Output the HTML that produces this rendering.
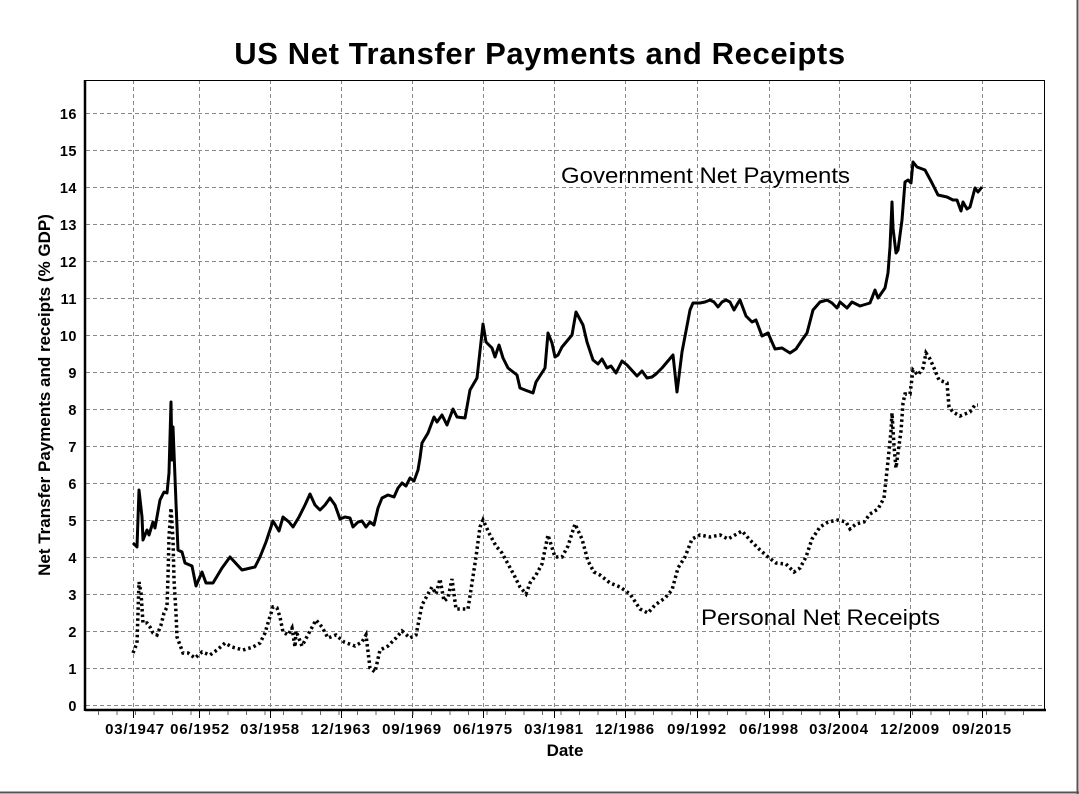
<!DOCTYPE html>
<html><head><meta charset="utf-8"><style>
html,body{margin:0;padding:0;background:#fff;}
svg{display:block;font-family:"Liberation Sans",sans-serif;}
</style></head><body>
<svg width="1079" height="794" viewBox="0 0 1079 794" xmlns="http://www.w3.org/2000/svg">
<rect x="0" y="0" width="1079" height="794" fill="#fff"/>
<line x1="1077.5" y1="0" x2="1077.5" y2="794" stroke="#555" stroke-width="2"/>
<line x1="0" y1="792.5" x2="1079" y2="792.5" stroke="#555" stroke-width="2"/>
<text x="540" y="64" text-anchor="middle" font-size="31" font-weight="bold" letter-spacing="0.6" fill="#000">US Net Transfer Payments and Receipts</text>
<g stroke="#888" stroke-width="1" stroke-dasharray="4 3" fill="none">
<line x1="86" y1="705.5" x2="1045" y2="705.5"/><line x1="86" y1="668.5" x2="1045" y2="668.5"/><line x1="86" y1="631.5" x2="1045" y2="631.5"/><line x1="86" y1="594.5" x2="1045" y2="594.5"/><line x1="86" y1="557.5" x2="1045" y2="557.5"/><line x1="86" y1="520.5" x2="1045" y2="520.5"/><line x1="86" y1="483.5" x2="1045" y2="483.5"/><line x1="86" y1="446.5" x2="1045" y2="446.5"/><line x1="86" y1="409.5" x2="1045" y2="409.5"/><line x1="86" y1="372.5" x2="1045" y2="372.5"/><line x1="86" y1="335.5" x2="1045" y2="335.5"/><line x1="86" y1="298.5" x2="1045" y2="298.5"/><line x1="86" y1="261.5" x2="1045" y2="261.5"/><line x1="86" y1="224.5" x2="1045" y2="224.5"/><line x1="86" y1="187.5" x2="1045" y2="187.5"/><line x1="86" y1="150.5" x2="1045" y2="150.5"/><line x1="86" y1="113.5" x2="1045" y2="113.5"/>
<line x1="133.5" y1="80" x2="133.5" y2="710"/><line x1="199.5" y1="80" x2="199.5" y2="710"/><line x1="270.5" y1="80" x2="270.5" y2="710"/><line x1="341.5" y1="80" x2="341.5" y2="710"/><line x1="412.5" y1="80" x2="412.5" y2="710"/><line x1="483.5" y1="80" x2="483.5" y2="710"/><line x1="554.5" y1="80" x2="554.5" y2="710"/><line x1="625.5" y1="80" x2="625.5" y2="710"/><line x1="697.5" y1="80" x2="697.5" y2="710"/><line x1="769.5" y1="80" x2="769.5" y2="710"/><line x1="839.5" y1="80" x2="839.5" y2="710"/><line x1="910.5" y1="80" x2="910.5" y2="710"/><line x1="982.5" y1="80" x2="982.5" y2="710"/>
</g>
<rect x="85.5" y="80.5" width="959" height="630" fill="none" stroke="#000" stroke-width="1"/>
<line x1="85" y1="80" x2="85" y2="711" stroke="#000" stroke-width="2.5"/>
<line x1="85" y1="710" x2="1046" y2="710" stroke="#000" stroke-width="2.5"/>
<g stroke="#000" stroke-width="1">
<line x1="133.5" y1="710" x2="133.5" y2="718"/><line x1="199.5" y1="710" x2="199.5" y2="718"/><line x1="270.5" y1="710" x2="270.5" y2="718"/><line x1="341.5" y1="710" x2="341.5" y2="718"/><line x1="412.5" y1="710" x2="412.5" y2="718"/><line x1="483.5" y1="710" x2="483.5" y2="718"/><line x1="554.5" y1="710" x2="554.5" y2="718"/><line x1="625.5" y1="710" x2="625.5" y2="718"/><line x1="697.5" y1="710" x2="697.5" y2="718"/><line x1="769.5" y1="710" x2="769.5" y2="718"/><line x1="839.5" y1="710" x2="839.5" y2="718"/><line x1="910.5" y1="710" x2="910.5" y2="718"/><line x1="982.5" y1="710" x2="982.5" y2="718"/>
</g>
<g stroke="#666" stroke-width="1" stroke-dasharray="1 17.5">
<line x1="98" y1="711" x2="1040" y2="711" stroke-width="4" transform="translate(0,2)"/>
</g>
<g font-size="14.5" font-weight="bold" text-anchor="end" fill="#000" letter-spacing="0.5">
<text x="77" y="711">0</text><text x="77" y="674">1</text><text x="77" y="637">2</text><text x="77" y="600">3</text><text x="77" y="563">4</text><text x="77" y="526">5</text><text x="77" y="489">6</text><text x="77" y="452">7</text><text x="77" y="415">8</text><text x="77" y="378">9</text><text x="77" y="341">10</text><text x="77" y="304">11</text><text x="77" y="267">12</text><text x="77" y="230">13</text><text x="77" y="193">14</text><text x="77" y="156">15</text><text x="77" y="119">16</text>
</g>
<g font-size="15" font-weight="bold" text-anchor="middle" fill="#000" letter-spacing="0.8">
<text x="135" y="734">03/1947</text><text x="200" y="734">06/1952</text><text x="270" y="734">03/1958</text><text x="341" y="734">12/1963</text><text x="412" y="734">09/1969</text><text x="483" y="734">06/1975</text><text x="554" y="734">03/1981</text><text x="625" y="734">12/1986</text><text x="697" y="734">09/1992</text><text x="769" y="734">06/1998</text><text x="839" y="734">03/2004</text><text x="910" y="734">12/2009</text><text x="982" y="734">09/2015</text>
</g>
<text x="565" y="756" font-size="17" font-weight="bold" text-anchor="middle">Date</text>
<text transform="translate(50,395) rotate(-90)" font-size="17" font-weight="bold" text-anchor="middle">Net Transfer Payments and receipts (% GDP)</text>
<text x="561" y="183" font-size="22" textLength="289" lengthAdjust="spacingAndGlyphs">Government Net Payments</text>
<text x="701" y="625" font-size="22" textLength="239" lengthAdjust="spacingAndGlyphs">Personal Net Receipts</text>
<polyline fill="none" stroke="#000" stroke-width="3" stroke-linejoin="round" points="133,543 137,547 139,490 142,517 143,540 147,530 149,535 153,522 155,528 160,500 164,492 167,493 169,473 171,402 172,460 173,427 176,503 178,550 182,552 185,563 192,566 196,586 202,572 206,583 213,583 222,568 230,557 242,570 255,567 260,557 266,542 273,521 279,531 283,517 289,522 293,527 299,517 305,505 310,494 315,505 320,510 325,505 330,498 335,505 340,519 345,517 350,518 353,527 358,522 362,521 366,527 370,522 374,525 378,508 382,498 388,495 394,497 398,488 402,483 406,486 410,478 414,481 418,470 420,458 422,443 428,433 434,417 437,422 442,415 447,425 453,409 457,417 465,418 470,390 477,378 483,324 486,342 492,348 495,357 499,345 503,358 508,368 517,375 520,388 525,390 533,393 536,382 545,368 548,333 552,343 555,357 558,355 562,347 572,335 576,312 583,325 587,342 593,360 598,364 602,359 607,368 611,366 616,373 622,361 627,365 637,376 642,371 647,378 652,377 656,374 662,368 673,355 677,392 682,352 690,310 693,303 700,303 705,302 710,300 714,302 718,307 722,302 726,300 730,302 734,310 738,303 740,300 746,316 752,322 756,320 762,336 768,333 775,349 782,348 790,353 796,349 802,340 807,333 813,310 820,302 827,300 832,303 837,308 840,302 847,308 852,302 860,306 870,303 875,290 878,298 885,288 888,273 890,247 892,202 893,228 896,253 898,250 902,220 905,182 908,180 911,183 913,162 917,167 925,170 932,183 938,195 947,197 953,200 957,200 961,211 963,202 967,209 970,207 975,188 978,192 982,187"/>
<polyline fill="none" stroke="#000" stroke-width="3.5" stroke-dasharray="2.5 3" points="133,653 137,643 139,582 141,593 143,623 147,623 150,627 153,633 157,635 161,625 164,613 167,607 168,577 169,537 171,508 173,540 174,580 176,613 177,637 180,645 183,653 188,653 195,658 202,652 210,655 217,650 225,643 232,647 243,650 253,647 260,643 265,633 268,623 273,607 277,608 280,617 283,632 288,635 292,628 295,647 296,631 302,646 310,631 316,620 322,627 328,638 336,635 344,642 355,646 362,642 366,635 370,668 375,672 380,650 388,646 396,638 402,631 410,638 416,635 422,605 428,594 432,587 436,594 440,579 444,601 448,598 452,579 456,609 462,609 468,609 472,583 476,557 480,527 483,520 490,535 496,546 502,553 508,564 514,575 520,587 526,594 530,583 536,575 542,564 548,535 555,557 562,557 568,546 575,524 582,539 588,561 594,572 600,575 610,583 620,587 630,594 640,609 648,613 655,605 665,598 672,590 678,568 685,557 692,539 700,535 710,537 720,535 728,539 735,535 742,531 750,540 760,550 768,557 776,563 786,564 794,572 800,568 806,557 812,539 820,527 828,522 838,520 846,522 850,529 856,524 864,522 870,514 878,509 884,498 888,461 891,431 892,413 894,446 896,468 898,453 901,431 903,403 905,394 910,394 913,370 918,375 923,368 926,353 930,359 934,368 939,380 947,383 949,407 953,412 960,416 970,412 975,405 978,405"/>
</svg>
</body></html>
